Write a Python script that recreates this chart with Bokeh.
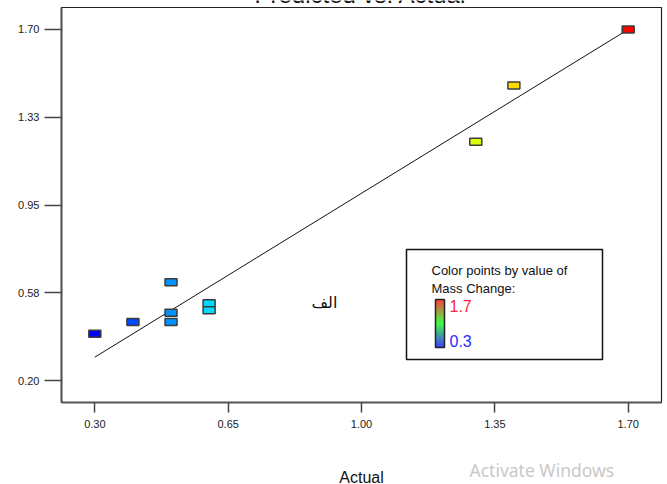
import colorsys

from bokeh.embed import file_html
from bokeh.models import BoxAnnotation, FixedTicker, Label, Range1d
from bokeh.plotting import figure
from bokeh.resources import INLINE

# Observed vs. model-predicted mass change for each run
actual = [0.30, 0.40, 0.50, 0.50, 0.50, 0.60, 0.60, 1.30, 1.40, 1.70]
predicted = [0.40, 0.45, 0.62, 0.49, 0.45, 0.53, 0.50, 1.22, 1.46, 1.70]

# Axis ticks and their printed labels
x_ticks = [0.30, 0.65, 1.00, 1.35, 1.70]
x_tick_labels = ["0.30", "0.65", "1.00", "1.35", "1.70"]
y_ticks = [0.20, 0.575, 0.95, 1.325, 1.70]
y_tick_labels = ["0.20", "0.58", "0.95", "1.33", "1.70"]

# Colour scale limits for "Mass Change"
scale_low = 0.3
scale_high = 1.7

# ---------------------------------------------------------------- layout
# The plotting box spans X0..X1 / Y0..Y1; it sits inside the canvas with the
# pixel margins below, and the axes are pinned to its left and bottom edges
# so that titles and notes around it can be drawn freely.
W, H = 667, 484
BOX_L, BOX_R, BOX_T, BOX_B = 61, 661, 7, 402
X0, X1 = 0.2125, 1.7875
Y0, Y1 = 0.10625, 1.79375
UX = (X1 - X0) / (BOX_R - BOX_L)
UY = (Y1 - Y0) / (BOX_B - BOX_T)


def dx(px):
    """Canvas x (pixels from the left) -> data x."""
    return X0 + (px - BOX_L) * UX


def dy(py):
    """Canvas y (pixels from the top) -> data y."""
    return Y1 - (py - BOX_T) * UY


def hue_color(v):
    """Rainbow colour: blue at the low end, red at the high end."""
    t = (scale_high - v) / (scale_high - scale_low)
    t = min(max(t, 0.0), 1.0)
    r, g, b = colorsys.hsv_to_rgb(t * 240.0 / 360.0, 1.0, 1.0)
    return "#%02x%02x%02x" % (round(r * 255), round(g * 255), round(b * 255))


point_colors = [hue_color(v) for v in actual]

p = figure(
    width=W,
    height=H,
    output_backend="svg",
    toolbar_location=None,
    x_range=Range1d(dx(0), dx(W)),
    y_range=Range1d(dy(H), dy(0)),
    min_border=0,
    min_border_left=0,
    min_border_right=0,
    min_border_top=0,
    min_border_bottom=0,
)
p.background_fill_color = "white"
p.border_fill_color = "white"
p.outline_line_color = None
p.xgrid.visible = False
p.ygrid.visible = False

tick_font = "Liberation Sans"

for ax in (p.xaxis[0], p.yaxis[0]):
    ax.axis_line_color = "#555555"
    ax.axis_line_width = 2
    ax.major_tick_line_color = "#444444"
    ax.major_tick_line_width = 1.5
    ax.major_tick_in = 0
    ax.minor_tick_line_color = None
    ax.major_label_text_font = tick_font
    ax.major_label_text_font_size = "11px"
    ax.major_label_text_color = "#222222"

p.xaxis.fixed_location = Y0
p.xaxis.bounds = (X0, X1)
p.xaxis.ticker = FixedTicker(ticks=x_ticks)
p.xaxis.major_label_overrides = dict(zip(x_ticks, x_tick_labels))
p.xaxis.major_tick_out = 10
p.xaxis.major_label_standoff = 7
p.xaxis.axis_label = "Actual"
p.xaxis.axis_label_text_font = tick_font
p.xaxis.axis_label_text_font_style = "normal"
p.xaxis.axis_label_text_font_size = "16px"
p.xaxis.axis_label_text_color = "#111111"
p.xaxis.axis_label_standoff = 38

p.yaxis.fixed_location = X0
p.yaxis.bounds = (Y0, Y1)
p.yaxis.ticker = FixedTicker(ticks=y_ticks)
p.yaxis.major_label_overrides = dict(zip(y_ticks, y_tick_labels))
p.yaxis.major_tick_out = 17
p.yaxis.major_label_standoff = 5

# Plotting box outline
p.add_layout(BoxAnnotation(
    left=X0, right=X1, bottom=Y0, top=Y1, level="underlay",
    fill_color=None, line_color="#222222", line_width=1.2, line_alpha=1.0,
))

# Line of perfect agreement
lo, hi = min(actual), max(actual)
p.line([lo, hi], [lo, hi], line_color="#111111", line_width=1)

# Runs, coloured by their mass change
p.rect(
    x=actual,
    y=predicted,
    width=12,
    height=7,
    width_units="screen",
    height_units="screen",
    fill_color=point_colors,
    line_color="#3c3c3c",
    line_width=1.5,
)

# Title, mostly cut by the top edge of the page
p.add_layout(Label(
    x=dx(360), y=dy(-6), text="Predicted vs. Actual",
    text_align="center", text_baseline="alphabetic",
    text_font=tick_font, text_font_size="24px", text_color="#111111",
))

# Colour key
p.add_layout(BoxAnnotation(
    left=dx(406), right=dx(602), top=dy(249), bottom=dy(359),
    fill_color="white", fill_alpha=1.0,
    line_color="#111111", line_width=1.5, line_alpha=1.0,
))
p.add_layout(Label(
    x=dx(431), y=dy(270), text="Color points by value of",
    text_baseline="middle", text_font=tick_font, text_font_size="13px",
    text_color="#111111",
))
p.add_layout(Label(
    x=dx(431), y=dy(288), text="Mass Change:",
    text_baseline="middle", text_font=tick_font, text_font_size="13px",
    text_color="#111111",
))

# Gradient bar: red -> green -> blue, top to bottom
bar_l, bar_r, bar_t, bar_b = 435, 444, 299, 347
n = bar_b - bar_t
lefts, rights, tops, bottoms, fills = [], [], [], [], []
for i in range(n):
    t = i / (n - 1)
    if t < 0.5:
        s = t / 0.5
        r, g, b = 1 - s, s, 0.0
    else:
        s = (t - 0.5) / 0.5
        r, g, b = 0.0, 1 - s, s
    lefts.append(dx(bar_l))
    rights.append(dx(bar_r))
    tops.append(dy(bar_t + i))
    bottoms.append(dy(bar_t + i + 1))
    fills.append("#%02x%02x%02x" % (round(r * 255), round(g * 255), round(b * 255)))
p.quad(left=lefts, right=rights, top=tops, bottom=bottoms,
       fill_color=fills, line_color=None, level="overlay")
p.quad(left=[dx(bar_l)], right=[dx(bar_r)], top=[dy(bar_t)], bottom=[dy(bar_b)],
       fill_color=None, line_color="#222222", line_width=1.5, level="overlay")

p.add_layout(Label(
    x=dx(449), y=dy(305), text="%.1f" % scale_high,
    text_baseline="middle", text_font=tick_font, text_font_size="16px",
    text_color="#ff1f3f",
))
p.add_layout(Label(
    x=dx(449), y=dy(340), text="%.1f" % scale_low,
    text_baseline="middle", text_font=tick_font, text_font_size="16px",
    text_color="#2a2aff",
))

# Panel letter
p.add_layout(Label(
    x=dx(324), y=dy(302), text="الف",
    text_align="center", text_baseline="middle",
    text_font="DejaVu Sans", text_font_size="16px", text_color="#111111",
))

# Light grey system notice at the lower right
p.add_layout(Label(
    x=dx(469), y=dy(469), text="Activate Windows",
    text_baseline="middle", text_font="Noto Sans", text_font_size="17.5px",
    text_color="#c8c8c8",
))

open("out.html", "w").write(file_html(p, INLINE))
